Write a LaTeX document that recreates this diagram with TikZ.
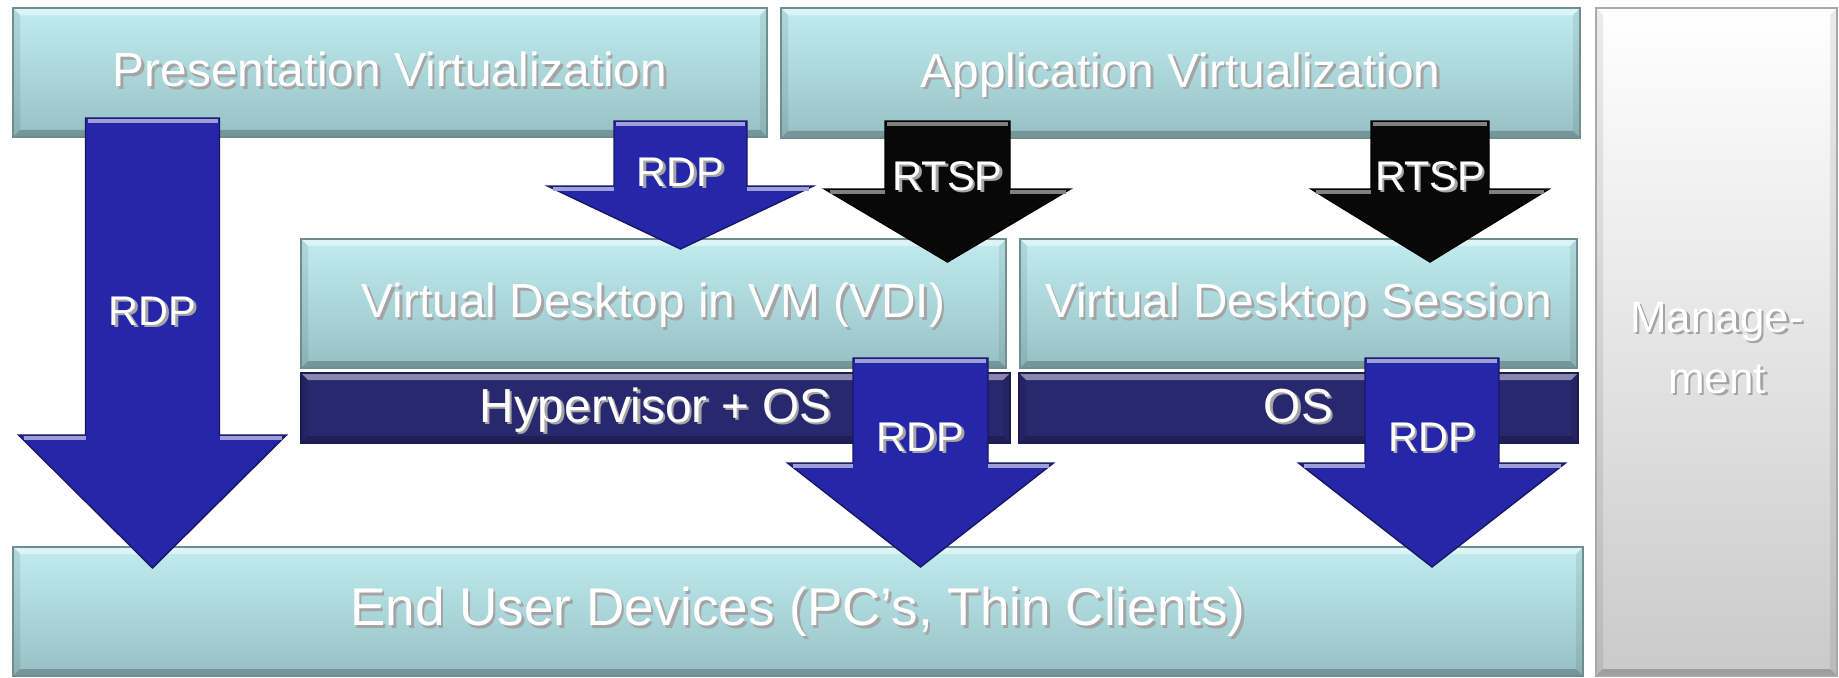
\documentclass[tikz,border=0pt]{standalone}
\usepackage{fontspec}
\setmainfont{Liberation Sans}
\usepackage{tikz}

\definecolor{boxtop}{HTML}{C0ECF0}
\definecolor{boxbot}{HTML}{96C0C4}
\definecolor{boxedge}{HTML}{6F8E8E}
\definecolor{barfill}{HTML}{28286E}
\definecolor{baredge}{HTML}{1C1C50}
\definecolor{arrblue}{HTML}{2626A8}
\definecolor{mgbot}{HTML}{CACACA}
\definecolor{mgedge}{HTML}{A8A8A8}
\definecolor{txtshadow}{HTML}{A4A4A4}

% white text with a small grey shadow
\newcommand{\shtxt}[1]{\leavevmode\rlap{\kern0.7pt\raisebox{-0.7pt}{\color{txtshadow}#1}}#1}
% block arrow pointing down: [style]{x}{top}{shaft half}{head top}{head half}{tip}
\newcommand{\dnarrow}[7][rdparrow]{%
	\filldraw[#1] (#2-#4,#3) -- (#2+#4,#3) -- (#2+#4,#5) -- (#2+#6,#5) -- (#2,#7) -- (#2-#6,#5) -- (#2-#4,#5) -- cycle;
	\draw[#1 hl] (#2-#4+2,#3-3) -- (#2+#4-2,#3-3);
	\draw[#1 hl] (#2-#6+5,#5-3) -- (#2-#4,#5-3) (#2+#4,#5-3) -- (#2+#6-5,#5-3);
}

\begin{document}
\begin{tikzpicture}[x=0.1mm, y=0.1mm,
	bevel/.style={path picture={
		\fill[white,opacity=0.45] (path picture bounding box.north west) -- (path picture bounding box.north east)
			-- ([shift={(-7,-7)}]path picture bounding box.north east) -- ([shift={(7,-7)}]path picture bounding box.north west) -- cycle;
		\fill[black,opacity=0.22] (path picture bounding box.south west) -- (path picture bounding box.south east)
			-- ([shift={(-7,7)}]path picture bounding box.south east) -- ([shift={(7,7)}]path picture bounding box.south west) -- cycle;
		\fill[black,opacity=0.08] (path picture bounding box.north west) -- ([shift={(7,-7)}]path picture bounding box.north west)
			-- ([shift={(7,7)}]path picture bounding box.south west) -- (path picture bounding box.south west) -- cycle;
		\fill[black,opacity=0.08] (path picture bounding box.north east) -- ([shift={(-7,-7)}]path picture bounding box.north east)
			-- ([shift={(-7,7)}]path picture bounding box.south east) -- (path picture bounding box.south east) -- cycle;
	}},
	box/.style={draw=boxedge, line width=0.3pt, top color=boxtop, bottom color=boxbot, bevel,
		text=white, inner sep=0pt, text height=0.8em, text depth=0pt, font=\fontsize{13.6pt}{16pt}\selectfont},
	bar/.style={draw=baredge, line width=0.3pt, fill=barfill, bevel,
		text=white, inner sep=0pt, text height=0.8em, text depth=0pt, font=\fontsize{13.6pt}{16pt}\selectfont},
	mgmt/.style={draw=mgedge, line width=0.3pt, top color=white, middle color=white!94!black, bottom color=mgbot, bevel},
	mlabel/.style={text=white, align=center, inner sep=0pt, font=\fontsize{12.5pt}{17.4pt}\selectfont},
	rdparrow/.style={fill=arrblue, draw=arrblue!60!black, line width=0.4pt},
	rdparrow hl/.style={draw=arrblue!45!white, line width=1pt},
	rtsparrow/.style={fill=black!97, draw=black, line width=0.4pt},
	rtsparrow hl/.style={draw=black!50!white, line width=1pt},
	alabel/.style={text=white, inner sep=0pt, font=\fontsize{11.8pt}{14pt}\selectfont}]
	\useasboundingbox (0,0) rectangle (1839,677);

	% layers
	\node[box, minimum width=75.4mm, minimum height=12.9mm] (pv) at (390,604.5) {\shtxt{Presentation Virtualization}};
	\node[box, minimum width=79.9mm, minimum height=13mm] (av) at (1180.5,604) {\shtxt{Application Virtualization}};
	\node[mgmt, minimum width=24.1mm, minimum height=66.8mm] (mg) at (1716.5,335) {};
	\node[mlabel] (mgl) at (1717,328) {\shtxt{Manage-}\\\shtxt{ment}};
	\node[box, minimum width=70.5mm, minimum height=12.9mm] (vdi) at (653.5,373.5) {\shtxt{Virtual Desktop in VM (VDI)}};
	\node[box, minimum width=55.7mm, minimum height=12.9mm] (vds) at (1298.5,373.5) {\shtxt{Virtual Desktop Session}};
	\node[bar, minimum width=70.9mm, minimum height=7mm] (hyp) at (655.5,269) {\shtxt{Hypervisor + OS}};
	\node[bar, minimum width=55.9mm, minimum height=7mm] (os) at (1298.5,269) {\shtxt{OS}};
	\node[box, minimum width=157mm, minimum height=12.9mm, font=\fontsize{15.1pt}{18pt}\selectfont] (eud) at (798,65.5) {\shtxt{End User Devices (PC’s, Thin Clients)}};

	% protocols
	\dnarrow{152.5}{559}{67}{242}{134}{109}
	\node[alabel] (rdpa) at (152.5,365) {\shtxt{RDP}};
	\dnarrow{680.5}{556}{66.5}{491}{133}{428}
	\node[alabel] (rdpb) at (680.5,504) {\shtxt{RDP}};
	\dnarrow[rtsparrow]{947.5}{556}{62.5}{488}{123}{415}
	\node[alabel] (rtspa) at (947.5,500) {\shtxt{RTSP}};
	\dnarrow[rtsparrow]{1430}{556}{59}{488}{119}{415}
	\node[alabel] (rtspb) at (1430,500) {\shtxt{RTSP}};
	\dnarrow{920.5}{319}{67.5}{214}{133}{110}
	\node[alabel] (rdpc) at (920.5,239) {\shtxt{RDP}};
	\dnarrow{1432}{319}{67}{214}{133.5}{110}
	\node[alabel] (rdpd) at (1432,239) {\shtxt{RDP}};
\end{tikzpicture}
\end{document}
